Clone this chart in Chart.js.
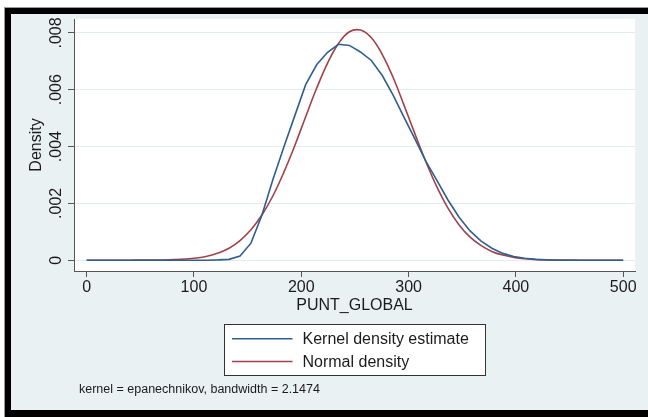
<!DOCTYPE html>
<html>
<head>
<meta charset="utf-8">
<script src="https://cdn.jsdelivr.net/npm/chart.js@4.4.0/dist/chart.umd.min.js"></script>
<style>
  html, body { margin: 0; padding: 0; background: #fff; width: 648px; height: 417px; overflow: hidden; }
  .frame {
    position: absolute; left: 5px; top: 8px; width: 700px; height: 409px;
    box-sizing: border-box; border: 6px solid #000; border-right: none; border-bottom-width: 7px;
    background: #eaf1f3; box-shadow: 0 0 0 1px #9a9a9a;
  }
  #wrap { position: absolute; left: 0; top: 0; width: 648px; height: 417px; }
</style>
</head>
<body>
<div class="frame"></div>
<div id="wrap"><canvas id="chart" width="648" height="417"></canvas></div>
<script>
// --- DATA ---
const punt = [0, 10.2, 20.4, 30.6, 40.8, 51, 61.2, 71.4, 81.6, 91.8,
              102, 112.2, 122.4, 132.7, 142.9, 153.1, 163.3, 173.5, 183.7, 193.9,
              204.1, 214.3, 224.5, 234.7, 244.9, 255.1, 265.3, 275.5, 285.7, 295.9,
              306.1, 316.3, 326.5, 336.7, 346.9, 357.1, 367.3, 377.6, 387.8, 398,
              408.2, 418.4, 428.6, 438.8, 449, 459.2, 469.4, 479.6, 489.8, 500];

const kernelDensity = [0, 0, 0, 0, 0, 0, 0, 0, 0, 0,
                       0, 0, 0.00001, 0.00003, 0.00015, 0.0006, 0.00158, 0.00283, 0.00398, 0.00508,
                       0.00618, 0.00688, 0.00732, 0.0076, 0.00756, 0.00733, 0.00703, 0.0065, 0.0058, 0.00502,
                       0.00425, 0.00347, 0.0028, 0.00212, 0.00152, 0.00104, 0.00068, 0.00042, 0.00024, 0.00013,
                       0.00007, 0.00003, 0.00001, 0, 0, 0, 0, 0, 0, 0];

const normalDensity = [0, 0, 0, 0, 0.000001, 0.000002, 0.000004, 0.000009, 0.00002, 0.00004,
                       0.000076, 0.00014, 0.00025, 0.00042, 0.00069, 0.00107, 0.00159, 0.00226, 0.00309, 0.00403,
                       0.00505, 0.00605, 0.00694, 0.00763, 0.00804, 0.0081, 0.00783, 0.00724, 0.00642, 0.00544,
                       0.00443, 0.00345, 0.00257, 0.00183, 0.00125, 0.00082, 0.00052, 0.00031, 0.00018, 0.0001,
                       0.00005, 0.000026, 0.000013, 0.000006, 0.000003, 0.000001, 0, 0, 0, 0];

const xTicks = [0, 100, 200, 300, 400, 500];
const yTicks = [0, 0.002, 0.004, 0.006, 0.008];
const seriesNames = ["Kernel density estimate", "Normal density"];
const footnote = "kernel = epanechnikov, bandwidth = 2.1474";

// --- STYLE ---
const FONT = "'Liberation Sans', Arial, Helvetica, sans-serif";
const INK = "#1b1b1b";
const AXIS = "#555";

// white plot region
const plotBg = {
  id: 'plotBg',
  beforeDraw(chart) {
    const { ctx, chartArea: a } = chart;
    ctx.save();
    ctx.fillStyle = '#fff';
    ctx.fillRect(a.left, a.top, a.right - a.left, a.bottom - a.top);
    ctx.restore();
  }
};

// Stata-like boxed legend + note under the x title
const stataLegend = {
  id: 'stataLegend',
  afterDraw(chart) {
    const { ctx, chartArea } = chart;
    const xs = chart.scales.x;
    const cx = (xs.getPixelForValue(xTicks[0]) + xs.getPixelForValue(xTicks[xTicks.length - 1])) / 2;
    const w = 261, h = 51;
    const left = Math.round(cx - w / 2) + 0.5, top = Math.round(xs.bottom + 7) + 0.5;

    ctx.save();
    ctx.fillStyle = '#fff';
    ctx.fillRect(left, top, w, h);
    ctx.strokeStyle = '#333';
    ctx.lineWidth = 1;
    ctx.strokeRect(left, top, w, h);

    ctx.font = '16px ' + FONT;
    ctx.textBaseline = 'middle';
    ctx.textAlign = 'left';
    chart.data.datasets.forEach((ds, i) => {
      const ry = top + 14.3 + i * 22.7;
      ctx.strokeStyle = ds.borderColor;
      ctx.lineWidth = ds.borderWidth;
      ctx.beginPath();
      ctx.moveTo(left + 7.5, ry);
      ctx.lineTo(left + 68, ry);
      ctx.stroke();
      ctx.fillStyle = INK;
      ctx.fillText(ds.label, left + 78, ry + 1);
    });

    ctx.font = '12.5px ' + FONT;
    ctx.textBaseline = 'alphabetic';
    ctx.fillText(footnote, chartArea.left + 5, xs.bottom + 76);
    ctx.restore();
  }
};

new Chart(document.getElementById('chart'), {
  type: 'line',
  data: {
    datasets: [
      {
        label: seriesNames[0],
        data: punt.map((x, i) => ({ x, y: kernelDensity[i] })),
        borderColor: '#2f5f8e',
        borderWidth: 1.6,
        pointRadius: 0,
        tension: 0,
        fill: false
      },
      {
        label: seriesNames[1],
        data: punt.map((x, i) => ({ x, y: normalDensity[i] })),
        borderColor: '#a0424a',
        borderWidth: 1.6,
        pointRadius: 0,
        tension: 0.4,
        fill: false
      }
    ]
  },
  options: {
    responsive: false,
    animation: false,
    layout: { padding: { left: 12, top: 19, right: 13, bottom: 100 } },
    plugins: { legend: { display: false }, tooltip: { enabled: false } },
    scales: {
      x: {
        type: 'linear',
        min: -11.8,
        max: 511,
        afterBuildTicks: s => { s.ticks = xTicks.map(v => ({ value: v })); },
        afterFit: s => { s.height = 46; },
        grid: { drawOnChartArea: false, drawTicks: true, tickLength: 6, tickColor: AXIS, tickWidth: 1 },
        border: { display: true, color: AXIS, width: 1 },
        ticks: { font: { family: FONT, size: 16 }, color: INK, padding: 1, maxRotation: 0, autoSkip: false },
        title: { display: true, text: 'PUNT_GLOBAL', color: INK, font: { family: FONT, size: 16 }, padding: { top: 0, bottom: 1.4 } }
      },
      y: {
        type: 'linear',
        min: -0.00038,
        max: 0.00849,
        afterBuildTicks: s => { s.ticks = yTicks.map(v => ({ value: v })); },
        afterFit: s => { s.width = 62; },
        grid: { color: '#e3ebef', lineWidth: 1, drawTicks: true, tickLength: 6, tickColor: AXIS, tickWidth: 1 },
        border: { display: true, color: AXIS, width: 1 },
        ticks: {
          font: { family: FONT, size: 16 }, color: INK,
          minRotation: 90, maxRotation: 90, crossAlign: 'center', padding: -4.3, autoSkip: false,
          callback: v => v === 0 ? '0' : String(v).replace(/^0/, '')
        },
        title: { display: true, text: 'Density', color: INK, font: { family: FONT, size: 16 }, padding: { top: 15.4, bottom: 0 } }
      }
    }
  },
  plugins: [plotBg, stataLegend]
});
</script>
</body>
</html>
